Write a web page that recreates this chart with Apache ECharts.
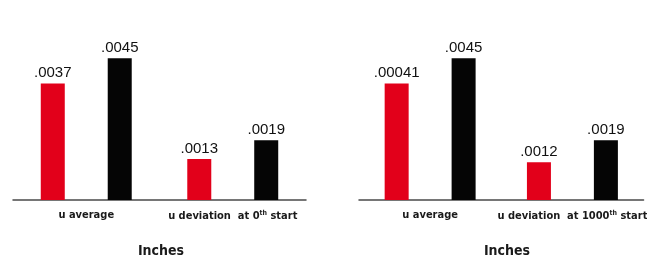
<!DOCTYPE html>
<html lang="en">
  <head>
    <meta charset="utf-8" />
    <title>Inches</title>
    <style>
      html, body { margin: 0; padding: 0; background: #fff; }
      #main { width: 647px; height: 260px; }
    </style>
  </head>
  <body>
    <script src="https://cdn.jsdelivr.net/npm/echarts@6/dist/echarts.min.js"></script>
    <div id="main"></div>
  <script>
    // left panel (at 0th start)
    let leftCategories = ['u average', 'u deviation  at 0th start'];
    let leftRed = [0.0037, 0.0013];
    let leftBlack = [0.0045, 0.0019];

    // right panel (at 1000th start)
    let rightCategories = ['u average', 'u deviation  at 1000th start'];
    let rightRed = [0.0037, 0.0012];
    let rightRedLabels = ['.00041', '.0012'];   // as printed on the chart
    let rightBlack = [0.0045, 0.0019];

    let axisTitle = 'Inches';

    const RED = '#e2001a';
    const BLACK = '#050505';
    const narrow = '"Liberation Sans Narrow", "DejaVu Sans Condensed", sans-serif';

    function shortNum(v) {
        return String(v).replace(/^0/, '');
    }

    function catAxis(grid, data) {
        return {
            type: 'category',
            gridIndex: grid,
            data: data,
            axisTick: {show: false},
            axisLine: {lineStyle: {color: '#4a4a4a', width: 1.5}},
            axisLabel: {
                margin: 10,
                interval: 0,
                color: '#1a1a1a',
                fontFamily: narrow,
                fontWeight: 'bold',
                fontSize: 11,
                formatter: function (v) {
                    return v.replace(/(\d)th/, '$1{sup|th}');
                },
                rich: {
                    sup: {fontSize: 7, fontFamily: narrow, fontWeight: 'bold', color: '#1a1a1a', verticalAlign: 'top', padding: [0, 0, 5, 0]}
                }
            }
        };
    }

    function valAxis(grid) {
        return {
            type: 'value',
            gridIndex: grid,
            min: 0,
            max: 0.006,
            show: false,
            splitLine: {show: false}
        };
    }

    function bars(grid, data, color, labels) {
        return {
            type: 'bar',
            xAxisIndex: grid,
            yAxisIndex: grid,
            data: data,
            barWidth: 24,
            barGap: '179%',
            itemStyle: {color: color},
            label: {
                show: true,
                position: 'top',
                distance: 3,
                color: '#111',
                fontFamily: '"Liberation Sans", Arial, sans-serif',
                fontSize: 15,
                formatter: function (p) {
                    return labels ? labels[p.dataIndex] : shortNum(p.value);
                }
            }
        };
    }

    let chart = echarts.init(document.getElementById('main'));
    let option = {
        animation: false,
        backgroundColor: '#fff',
        title: [
            {text: axisTitle, left: 156, top: 239, textAlign: 'center',
             textStyle: {fontFamily: narrow, fontWeight: 'bold', fontSize: 14, color: '#1a1a1a'}},
            {text: axisTitle, left: 502, top: 239, textAlign: 'center',
             textStyle: {fontFamily: narrow, fontWeight: 'bold', fontSize: 14, color: '#1a1a1a'}}
        ],
        grid: [
            {left: 13, width: 293, top: 11, bottom: 60},
            {left: 359, width: 298, top: 11, bottom: 60}
        ],
        xAxis: [catAxis(0, leftCategories), catAxis(1, rightCategories)],
        yAxis: [valAxis(0), valAxis(1)],
        series: [
            bars(0, leftRed, RED),
            bars(0, leftBlack, BLACK),
            bars(1, rightRed, RED, rightRedLabels),
            bars(1, rightBlack, BLACK)
        ]
    };
    chart.setOption(option);
  </script>
  </body>
</html>
